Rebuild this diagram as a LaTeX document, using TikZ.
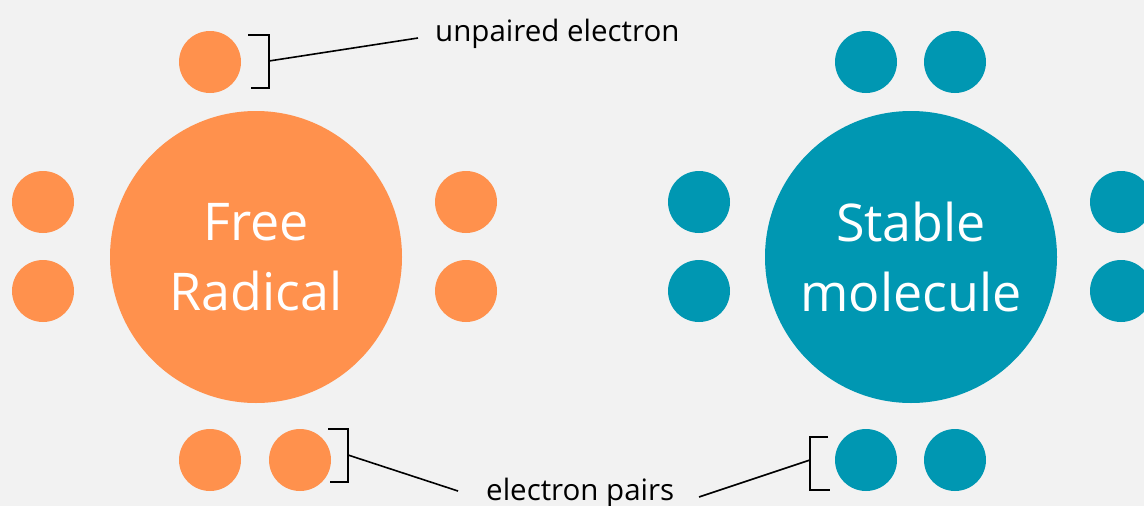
\documentclass[tikz,border=0pt]{standalone}
\usepackage{fontspec}
\setmainfont{Open Sans}
\definecolor{bgcol}{HTML}{F2F2F2}
\definecolor{radorange}{HTML}{FF914D}
\definecolor{stabteal}{HTML}{0097B2}
\begin{document}
\begin{tikzpicture}[x=1pt,y=-1pt,
  electron/.style={circle,fill=#1,draw=none,minimum size=62pt,inner sep=0pt},
  atom/.style={circle,fill=#1,draw=none,minimum size=292pt,inner sep=0pt,
    text=white,align=center,font=\fontsize{52}{70}\selectfont},
  note/.style={font=\fontsize{29.5}{34}\selectfont,text=black,inner sep=0pt},
  bracketline/.style={line width=1.6pt,black},
]
\fill[bgcol] (0,0) rectangle (1144,506);
\useasboundingbox (0,0) rectangle (1144,506);

% free radical
\node[atom=radorange] (fr) at (256,257) {Free\\Radical};
\node[electron=radorange] (fr-t) at (210,62) {};
\node[electron=radorange] (fr-l1) at (43,202) {};
\node[electron=radorange] (fr-l2) at (43,291) {};
\node[electron=radorange] (fr-r1) at (466,202) {};
\node[electron=radorange] (fr-r2) at (466,291) {};
\node[electron=radorange] (fr-b1) at (210,460) {};
\node[electron=radorange] (fr-b2) at (300,460) {};

% stable molecule
\node[atom=stabteal] (sm) at (911,257) {Stable\\molecule};
\node[electron=stabteal] (sm-t1) at (866,62) {};
\node[electron=stabteal] (sm-t2) at (955,62) {};
\node[electron=stabteal] (sm-l1) at (699,202) {};
\node[electron=stabteal] (sm-l2) at (699,291) {};
\node[electron=stabteal] (sm-r1) at (1121,202) {};
\node[electron=stabteal] (sm-r2) at (1121,291) {};
\node[electron=stabteal] (sm-b1) at (866,460) {};
\node[electron=stabteal] (sm-b2) at (955,460) {};

% labels
\node[note,anchor=base west] (unp) at (435,41) {unpaired electron};
\node[note,anchor=base west] (pairs) at (486,500) {electron pairs};

% brackets
\draw[bracketline] (248,35) -- (269,35) -- (269,88) -- (251,88);
\coordinate (br-top) at (269,61);
\draw[bracketline] (328,429) -- (348,429) -- (348,482) -- (330,482);
\coordinate (br-left) at (348,455);
\draw[bracketline] (828,437) -- (810,437) -- (810,490) -- (830,490);
\coordinate (br-right) at (810,460);

% leader lines
\coordinate (unp-end) at (418,38);
\coordinate (pairs-l) at (458,491);
\coordinate (pairs-r) at (699,497);
\draw[bracketline] (br-top) -- (unp-end);
\draw[bracketline] (br-left) -- (pairs-l);
\draw[bracketline] (br-right) -- (pairs-r);
\end{tikzpicture}
\end{document}
